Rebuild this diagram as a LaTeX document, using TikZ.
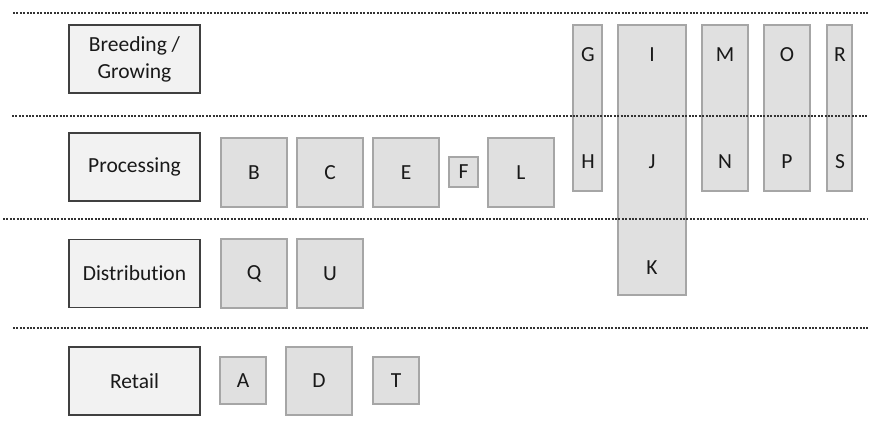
\documentclass[tikz,border=0pt]{standalone}
\usepackage{fontspec}
\setmainfont[Ligatures=NoCommon]{Carlito}
\begin{document}
\begin{tikzpicture}[x=1pt,y=-1pt,
  stage/.style={draw=black!75, line width=1.3pt, fill=black!5, align=center, inner sep=0pt,
    minimum width=131pt, minimum height=68pt, text=black!90, font=\fontsize{21.5}{27}\selectfont},
  item/.style={draw=black!35, line width=1.2pt, fill=black!12, inner sep=0pt,
    text=black!90, font=\fontsize{21.5}{26}\selectfont},
  lbl/.style={inner sep=0pt, text=black!90, font=\fontsize{21.5}{26}\selectfont},
  sep/.style={draw=black!80, line width=1.2pt, dash pattern=on 2pt off 1.4pt}]
\useasboundingbox (0,0) rectangle (873,425);

% stage boxes
\node[stage] (breed) at (134.5,59) {Breeding /\\Growing};
\node[stage] (proc) at (134.5,167) {Processing};
\node[stage] (dist) at (134.5,273.5) {Distribution};
\node[stage] (retail) at (134.5,381) {Retail};

% processing items
\node[item, minimum width=66pt, minimum height=69pt] (B) at (254,172.5) {B};
\node[item, minimum width=66pt, minimum height=69pt] (C) at (330,172.5) {C};
\node[item, minimum width=66pt, minimum height=69pt] (E) at (406,172.5) {E};
\node[item, minimum width=29pt, minimum height=30pt] (F) at (463.5,172) {F};
\node[item, minimum width=66pt, minimum height=69pt] (L) at (521,172.5) {L};

% distribution items
\node[item, minimum width=66pt, minimum height=69pt] (Q) at (254,273.5) {Q};
\node[item, minimum width=66pt, minimum height=69pt] (U) at (330,273.5) {U};

% retail items
\node[item, minimum width=46pt, minimum height=47pt] (A) at (243,380.5) {A};
\node[item, minimum width=66pt, minimum height=68pt] (D) at (319,381) {D};
\node[item, minimum width=46pt, minimum height=47pt] (T) at (396,380.5) {T};

% tall spanning boxes
\node[item, minimum width=29pt, minimum height=166pt] (GH) at (587.5,108) {};
\node[item, minimum width=68pt, minimum height=270pt] (IJK) at (652,160) {};
\node[item, minimum width=46pt, minimum height=166pt] (MN) at (725,108) {};
\node[item, minimum width=46pt, minimum height=166pt] (OP) at (787,108) {};
\node[item, minimum width=25pt, minimum height=166pt] (RS) at (839.5,108) {};

\node[lbl] (G) at (588,55) {G};
\node[lbl] (H) at (588,162) {H};
\node[lbl] (I) at (652,55) {I};
\node[lbl] (J) at (652,162) {J};
\node[lbl] (K) at (652,268) {K};
\node[lbl] (M) at (725,55) {M};
\node[lbl] (N) at (725,162) {N};
\node[lbl] (O) at (787,55) {O};
\node[lbl] (P) at (787,162) {P};
\node[lbl] (R) at (840,55) {R};
\node[lbl] (S) at (840,162) {S};

% separators
\draw[sep] (13,13) -- (868,13);
\draw[sep] (12,116) -- (868,116);
\draw[sep] (3,219) -- (868,219);
\draw[sep] (13,328) -- (868,328);
\end{tikzpicture}
\end{document}
